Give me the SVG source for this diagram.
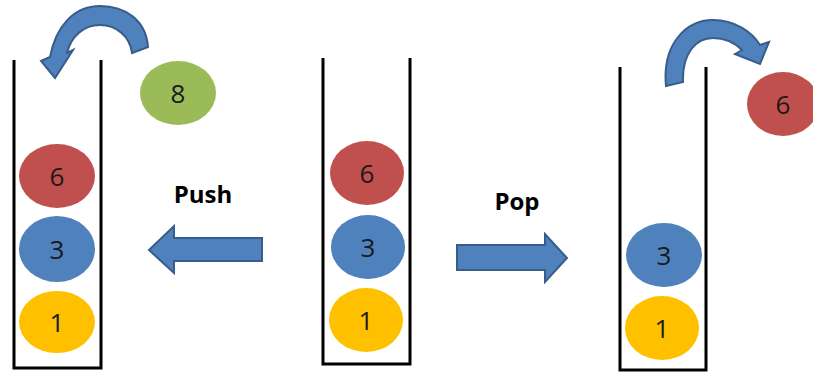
<svg xmlns="http://www.w3.org/2000/svg" width="813" height="375" viewBox="0 0 813 375">
  <style>
    .stack { fill: none; stroke: #000; stroke-width: 3; stroke-linejoin: miter; }
    .red { fill: #C0504D; }
    .blue { fill: #4F81BD; }
    .yellow { fill: #FFC000; }
    .green { fill: #9BBB59; }
    .num { font-family: "Open Sans", "Liberation Sans", sans-serif; font-size: 26px; fill: #1a1a1a; text-anchor: middle; dominant-baseline: central; }
    .label { font-family: "Open Sans", "Liberation Sans", sans-serif; font-size: 24px; font-weight: bold; fill: #000; text-anchor: middle; }
    .arrow { fill: #4F81BD; stroke: #385D8A; stroke-width: 2; stroke-linejoin: miter; }
  </style>
  <rect width="813" height="375" fill="#fff"/>

  <!-- Left stack: after push -->
  <g id="stack-push">
    <path class="stack" d="M14,60 V368 H101 V60"/>
    <ellipse class="red" cx="57" cy="176" rx="38" ry="32"/>
    <text class="num" x="57" y="176">6</text>
    <ellipse class="blue" cx="57" cy="249" rx="38" ry="33"/>
    <text class="num" x="57" y="249">3</text>
    <ellipse class="yellow" cx="57" cy="322" rx="38" ry="31"/>
    <text class="num" x="57" y="322">1</text>
  </g>
  <g id="item-8">
    <ellipse class="green" cx="178" cy="93" rx="38" ry="32"/>
    <text class="num" x="178" y="93">8</text>
  </g>

  <!-- Middle stack: original -->
  <g id="stack-initial">
    <path class="stack" d="M323,58 V364 H410 V58"/>
    <ellipse class="red" cx="367" cy="173" rx="37" ry="32"/>
    <text class="num" x="367" y="173">6</text>
    <ellipse class="blue" cx="368" cy="247" rx="37" ry="32"/>
    <text class="num" x="368" y="247">3</text>
    <ellipse class="yellow" cx="366" cy="320" rx="37" ry="32"/>
    <text class="num" x="366" y="320">1</text>
  </g>

  <!-- Right stack: after pop -->
  <g id="stack-pop">
    <path class="stack" d="M620,67 V370 H706 V67"/>
    <ellipse class="blue" cx="664" cy="255" rx="38" ry="32"/>
    <text class="num" x="664" y="255">3</text>
    <ellipse class="yellow" cx="662" cy="328" rx="37" ry="32"/>
    <text class="num" x="662" y="328">1</text>
  </g>
  <g id="item-6">
    <ellipse class="red" cx="783" cy="104" rx="36" ry="32"/>
    <text class="num" x="783" y="104">6</text>
  </g>

  <!-- Operation labels -->
  <g id="label-push"><text class="label" x="203" y="203">Push</text></g>
  <g id="label-pop"><text class="label" x="517" y="210">Pop</text></g>

  <!-- Connectors -->
  <g id="connectors">
    <!-- push direction -->
    <path class="arrow" d="M262,238 H174 V226 L149,250 L174,273 V261 H262 Z"/>
    <!-- pop direction -->
    <path class="arrow" d="M457,245 H545 V234 L567,258 L545,282 V270 H457 Z"/>
    <!-- curved arrow into left stack -->
    <path class="arrow" d="M148,47 C146,20 125,6 100,6 C74,6 56,26 50,57 L41,61 L55,78 L73,50 L67,53 C71,36 84,25 100,25 C116,25 130,36 132,53 Z"/>
    <!-- curved arrow out of right stack -->
    <path class="arrow" d="M666,86 C662,44 686,20 713,20 C735,20 752,32 760,45 L769,42 L760,64 L735,54 L742,50 C736,44 728,38 713,38 C697,38 682,52 683,82 Z"/>
  </g>
</svg>
